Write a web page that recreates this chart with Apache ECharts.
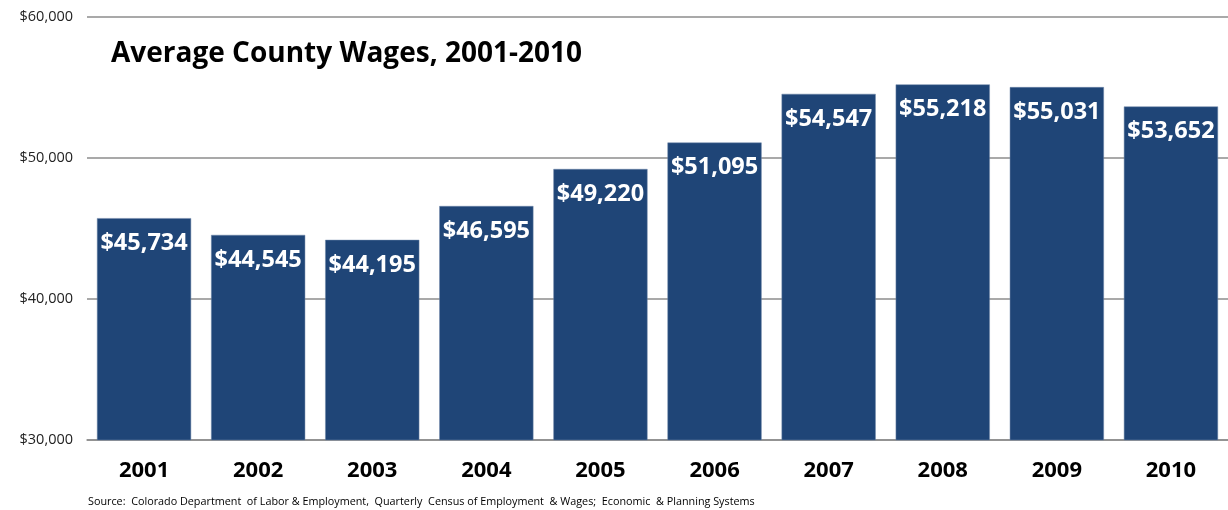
<!DOCTYPE html>
<html>
<head>
<meta charset="utf-8">
<script src="https://cdn.jsdelivr.net/npm/echarts@6/dist/echarts.min.js"></script>
<style>
  html, body { margin: 0; padding: 0; background: #fff; }
  #chart { width: 1228px; height: 510px; }
</style>
</head>
<body>
<div id="chart"></div>
<script>
// Average annual county wages by year
const years = ['2001', '2002', '2003', '2004', '2005', '2006', '2007', '2008', '2009', '2010'];
const wages = [45734, 44545, 44195, 46595, 49220, 51095, 54547, 55218, 55031, 53652];
const yTicks = [30000, 40000, 50000, 60000];

const fmt = v => '$' + v.toLocaleString('en-US');

const chart = echarts.init(document.getElementById('chart'));
chart.setOption({
  animation: false,
  backgroundColor: '#fff',
  title: {
    text: 'Average County Wages, 2001-2010',
    left: 106,
    top: 35,
    textStyle: { fontFamily: 'Open Sans', fontWeight: 'bold', fontSize: 28, color: '#000' }
  },
  graphic: [{
    type: 'text',
    left: 88,
    top: 496,
    style: {
      text: 'Source:  Colorado Department  of Labor & Employment,  Quarterly  Census of Employment  & Wages;  Economic  & Planning Systems',
      font: '10.8px "Open Sans"',
      fill: '#000'
    }
  }],
  grid: { left: 87, right: 0, top: 17, bottom: 70 },
  xAxis: {
    type: 'category',
    data: years,
    axisLine: { lineStyle: { color: '#8c8c8c', width: 1.5 } },
    axisTick: { show: false },
    axisLabel: { fontFamily: 'Open Sans', fontWeight: 'bold', fontSize: 22, color: '#000', margin: 20 }
  },
  yAxis: {
    type: 'value',
    min: yTicks[0],
    max: yTicks[yTicks.length - 1],
    interval: 10000,
    axisLine: { show: false },
    axisTick: { show: false },
    splitLine: { lineStyle: { color: '#8c8c8c', width: 1.5 } },
    axisLabel: { formatter: fmt, fontFamily: 'Open Sans', fontSize: 14.5, color: '#222', margin: 14 }
  },
  series: [{
    type: 'bar',
    data: wages,
    barCategoryGap: '17.5%',
    itemStyle: { color: '#1f4577', borderColor: '#6f87a8', borderWidth: 0.5 },
    label: {
      show: true,
      position: 'insideTop',
      distance: 13,
      formatter: p => fmt(p.value),
      fontFamily: 'Open Sans',
      fontWeight: 'bold',
      fontSize: 23.5,
      color: '#fff'
    }
  }]
});
</script>
</body>
</html>
